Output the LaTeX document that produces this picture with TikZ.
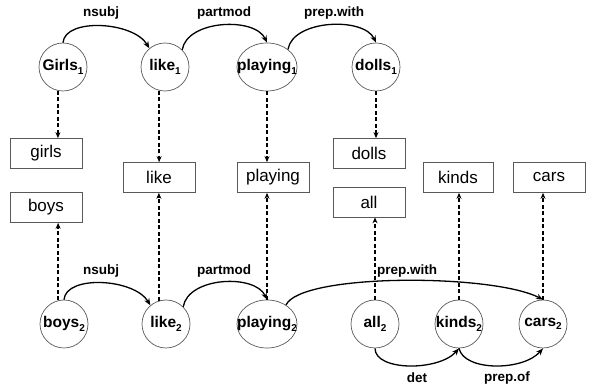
\documentclass[tikz,border=0pt]{standalone}
\usepackage{fontspec}
\setmainfont{Liberation Sans}
\usetikzlibrary{arrows.meta,calc,shapes.geometric}
\newcommand\sbs[1]{\raisebox{-0.4ex}{\fontsize{10}{10}\selectfont #1}}
\begin{document}
\begin{tikzpicture}[x=1pt,y=1pt,
 wnode/.style={circle,draw=black!65,line width=0.7pt,minimum size=48pt,inner sep=0pt},
 enode/.style={ellipse,draw=black!65,line width=0.7pt,minimum width=60pt,minimum height=48pt,inner sep=0pt},
 wbox/.style={rectangle,draw=black!65,line width=0.7pt,minimum width=72pt,minimum height=30pt,inner sep=0pt,font=\fontsize{17}{20}\selectfont},
 dep/.style={-{Stealth[length=7pt,width=5.5pt]},line width=1.3pt},
 link/.style={-{Stealth[length=6pt,width=5pt]},line width=1.3pt,dash pattern=on 4pt off 2.5pt},
 lbl/.style={font=\bfseries\fontsize{13.5}{16}\selectfont},
 wtxt/.style={font=\bfseries\fontsize{15.5}{18}\selectfont}
]
\useasboundingbox (0,0) rectangle (589,385);
% top row
\node[wnode,label={[wtxt]center:Girls\sbs{1}}] (G1) at (63,318) {};
\node[wnode,label={[wtxt]center:like\sbs{1}}] (L1) at (165,318) {};
\node[enode,label={[wtxt]center:playing\sbs{1}}] (P1) at (267,318) {};
\node[wnode,label={[wtxt]center:dolls\sbs{1}}] (D1) at (376,318) {};
% bottom row
\node[wnode,label={[wtxt]center:boys\sbs{2}}] (B2) at (64,61) {};
\node[wnode,label={[wtxt]center:like\sbs{2}}] (L2) at (166,61) {};
\node[enode,label={[wtxt]center:playing\sbs{2}}] (P2) at (267,61) {};
\node[wnode,label={[wtxt]center:all\sbs{2}}] (A2) at (375,61) {};
\node[wnode,label={[wtxt]center:kinds\sbs{2}}] (K2) at (459,61) {};
\node[wnode,label={[wtxt]center:cars\sbs{2}}] (C2) at (543,61) {};
% boxes
\node[wbox] (girls) at (46,231.5) {girls};
\node[wbox] (boys) at (46,177.5) {boys};
\node[wbox] (like) at (159,207.5) {like};
\node[wbox] (playing) at (273,207.5) {playing};
\node[wbox] (dolls) at (369,231.5) {dolls};
\node[wbox] (all) at (369,183) {all};
\node[wbox,minimum width=70pt] (kinds) at (458,207.5) {kinds};
\node[wbox] (cars) at (549,207.5) {cars};
% dashed links
\draw[link] (G1.258) -- (G1.258 |- girls.north);
\draw[link] (L1.256) -- (L1.256 |- like.north);
\draw[link] (P1.south) -- (P1.south |- playing.north);
\draw[link] (D1.south) -- (D1.south |- dolls.north);
\draw[link] (B2.104) -- (B2.104 |- boys.south);
\draw[link] (L2.107) -- (L2.107 |- like.south);
\draw[link] (P2.north) -- (P2.north |- playing.south);
\draw[link] (A2.north) -- (A2.north |- all.south);
\draw[link] (K2.north) -- (K2.north |- kinds.south);
\draw[link] (C2.north) -- (C2.north |- cars.south);
% top dependencies
\draw[dep] (G1.north) .. controls ($(G1.north)+(2,25)$) and ($(L1.130)+(-16,27)$) .. (L1.130);
\draw[dep] (L1.45) .. controls ($(L1.45)+(5,30)$) and ($(P1.north)+(-12,26)$) .. (P1.north);
\draw[dep] (P1.40) .. controls ($(P1.40)+(5,30)$) and ($(D1.north)+(-12,26)$) .. (D1.north);
\node[lbl] (t1) at (101,372) {nsubj};
\node[lbl] (t2) at (224,372) {partmod};
\node[lbl] (t3) at (334,372) {prep.with};
% bottom dependencies
\draw[dep] (B2.north) .. controls ($(B2.north)+(2,25)$) and ($(L2.130)+(-16,27)$) .. (L2.130);
\draw[dep] (L2.45) .. controls ($(L2.45)+(5,30)$) and ($(P2.north)+(-12,26)$) .. (P2.north);
\draw[dep] (P2.45) .. controls ($(P2.45)+(15,32)$) and ($(C2.north)+(-50,26)$) .. (C2.north);
\draw[dep] (A2.south) .. controls ($(A2.south)+(0,-23)$) and ($(K2.south)+(-20,-23)$) .. (K2.south);
\draw[dep] (K2.south) .. controls ($(K2.south)+(5,-23)$) and ($(C2.south)+(-20,-23)$) .. (C2.south);
\node[lbl] (b1) at (101,114) {nsubj};
\node[lbl] (b2) at (224,114) {partmod};
\node[lbl] (b3) at (407,114) {prep.with};
\node[lbl] (b4) at (417,7) {det};
\node[lbl] (b5) at (507,7) {prep.of};
\end{tikzpicture}
\end{document}
